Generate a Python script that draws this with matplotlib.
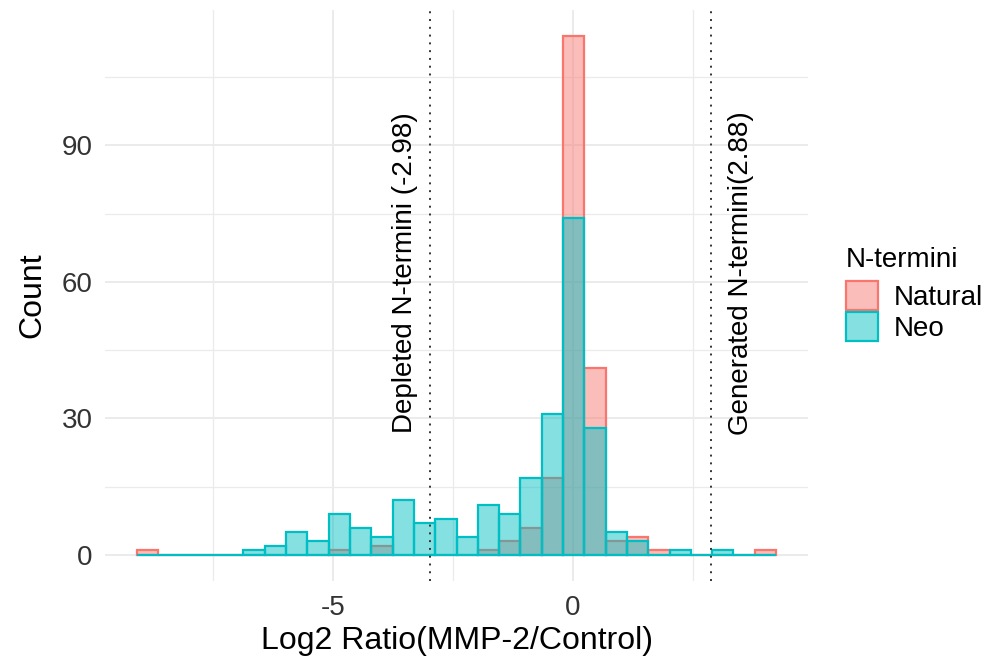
import matplotlib
matplotlib.use("Agg")
import matplotlib.pyplot as plt
from matplotlib.patches import Patch
import numpy as np

# === Histogram data (30 bins, ggplot default) ===
BIN_START = -9.088
BIN_WIDTH = 0.4443
natural_counts = [1, 0, 0, 0, 0, 0, 0, 0, 0, 1, 0, 2, 0, 0, 0,
                  0, 1, 3, 6, 17, 114, 41, 3, 4, 1, 0, 0, 0, 0, 1]
neo_counts = [0, 0, 0, 0, 0, 1, 2, 5, 3, 9, 6, 4, 12, 7, 8,
              4, 11, 9, 17, 31, 74, 28, 5, 3, 0, 1, 0, 1, 0, 0]

groups = ["Natural", "Neo"]
colors = {"Natural": "#F8766D", "Neo": "#00BFC4"}

# threshold lines
depleted_cut = -2.98
generated_cut = 2.88

plt.rcParams['font.family'] = ['Liberation Sans', 'DejaVu Sans']
plt.rcParams['axes.unicode_minus'] = False

fig = plt.figure(figsize=(9.89, 6.59), dpi=100)
ax = fig.add_axes([0.1062, 0.1184, 0.7108, 0.8664])

edges = BIN_START + BIN_WIDTH * np.arange(len(natural_counts))
for name, counts in [("Natural", natural_counts), ("Neo", neo_counts)]:
    ax.bar(edges, counts, width=BIN_WIDTH, align='edge',
           color=matplotlib.colors.to_rgba(colors[name], 0.48),
           edgecolor=colors[name], linewidth=1.6, zorder=3)

# dotted cut-off lines
for xv in (depleted_cut, generated_cut):
    ax.axvline(xv, color='#333333', linestyle=(0, (1, 3)), linewidth=1.4, zorder=4)

ax.text(depleted_cut - 0.52, 62, "Depleted N-termini (-2.98)", rotation=90,
        ha='center', va='center', fontsize=20, color='black', zorder=5)
ax.text(generated_cut + 0.64, 62, "Generated N-termini(2.88)", rotation=90,
        ha='center', va='center', fontsize=20, color='black', zorder=5)

# axes, ggplot theme_minimal look
x_lo = BIN_START
x_hi = BIN_START + BIN_WIDTH * len(natural_counts)
pad = (x_hi - x_lo) * 0.05
ax.set_xlim(x_lo - pad, x_hi + pad)
ax.set_ylim(-114 * 0.05, 114 * 1.05)

ax.set_xticks([-5, 0])
ax.set_yticks([0, 30, 60, 90])
ax.set_xticks([-7.5, -2.5, 2.5], minor=True)
ax.set_yticks([15, 45, 75, 105], minor=True)
ax.grid(True, which='major', color='#EBEBEB', linewidth=1.4, zorder=0)
ax.grid(True, which='minor', color='#EBEBEB', linewidth=0.9, zorder=0)
ax.set_axisbelow(True)
for s in ax.spines.values():
    s.set_visible(False)
ax.tick_params(which='both', length=0, labelsize=20, labelcolor='#333333')
ax.tick_params(axis='y', pad=9)
ax.tick_params(axis='x', pad=10)

ax.set_xlabel("Log2 Ratio(MMP-2/Control)", fontsize=23, labelpad=4)
ax.set_ylabel("Count", fontsize=23, labelpad=10)

handles = [Patch(facecolor=matplotlib.colors.to_rgba(colors[g], 0.48),
                 edgecolor=colors[g], linewidth=1.6) for g in groups]
leg = fig.legend(handles, groups, title="N-termini", loc='upper left',
                 bbox_to_anchor=(0.836, 0.655), frameon=False, fontsize=20,
                 title_fontsize=20, handlelength=1.15, handleheight=1.2,
                 labelspacing=0.05, handletextpad=0.55, borderpad=0.2)
leg._legend_box.align = "left"
leg._legend_box.sep = 6

fig.savefig("out.png", dpi=100)
